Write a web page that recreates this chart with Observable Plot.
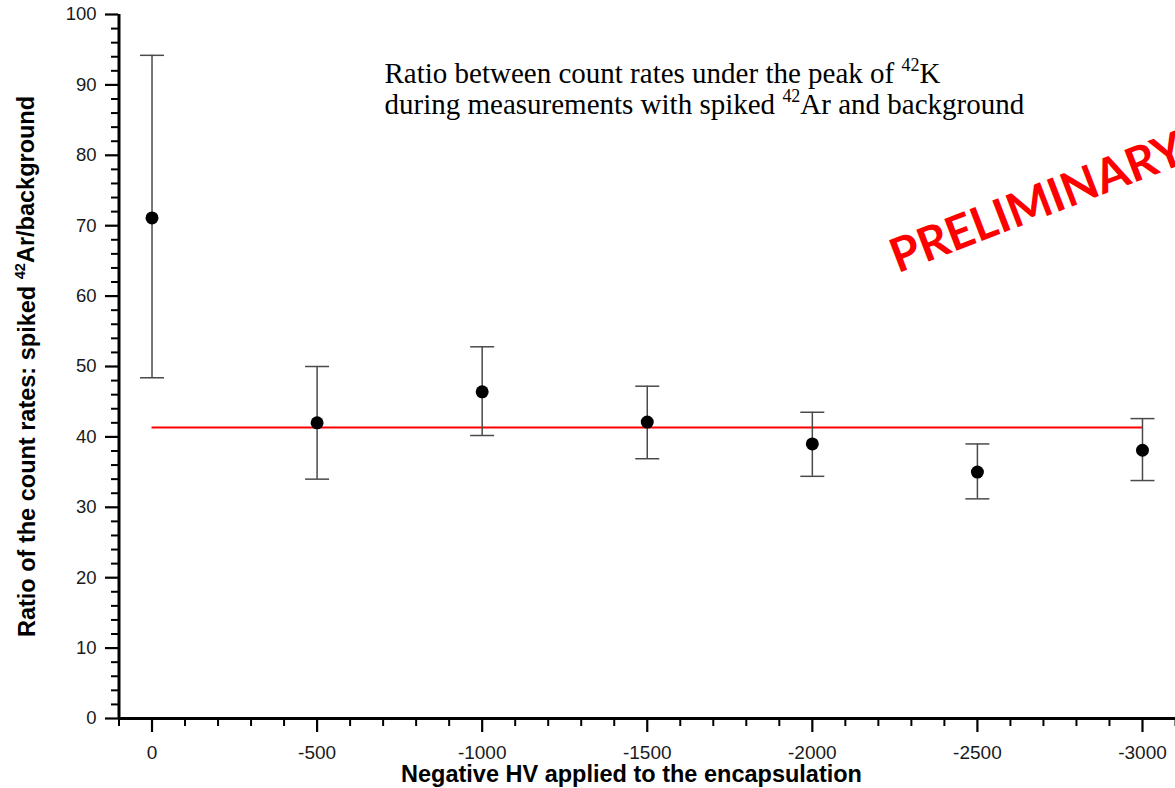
<!DOCTYPE html>
<html><head><meta charset="utf-8">
<script src="https://cdn.jsdelivr.net/npm/d3@7"></script>
<script src="https://cdn.jsdelivr.net/npm/@observablehq/plot@0.6"></script>
<style>
  html,body{margin:0;padding:0;background:#fff}
  #chart{width:1175px;height:788px}
</style>
</head><body><div id="chart"></div>
<script>
// ---- data ----
const voltages = [0, -500, -1000, -1500, -2000, -2500, -3000];
const ratios   = [71.1, 42.0, 46.4, 42.1, 39.0, 35.0, 38.1];
const errLow   = [48.4, 34.0, 40.2, 36.9, 34.4, 31.2, 33.8];
const errHigh  = [94.2, 50.0, 52.8, 47.2, 43.5, 39.0, 42.6];
const meanRatio = 41.35;
const meanFrom = 0, meanTo = -3000;
const xTicks = [0, -500, -1000, -1500, -2000, -2500, -3000];
const xMinorTicks = d3.range(100, -3101, -100).filter(v => v % 500 !== 0);
const yTicks = [0, 10, 20, 30, 40, 50, 60, 70, 80, 90, 100];
const yMinorTicks = d3.range(0, 101, 2).filter(v => v % 10 !== 0);
const xDomain = [100, -3100];
const yDomain = [0, 100];
const xLabel = "Negative HV applied to the encapsulation";
const yLabel = "Ratio of the count rates: spiked ^42Ar/background";
const noteLine1 = "Ratio between count rates under the peak of ^42K";
const noteLine2 = "during measurements with spiked ^42Ar and background";
const watermark = "PRELIMINARY";

const points = voltages.map((v, i) => ({x: v, y: ratios[i], lo: errLow[i], hi: errHigh[i]}));

// horizontal cap symbol for error bars
const capSymbol = {
  draw(ctx, size) {
    const w = Math.sqrt(size / Math.PI);
    ctx.moveTo(-w, 0); ctx.lineTo(w, 0);
  }
};

const sans = "'Liberation Sans', Arial, sans-serif";
const serif = "'Liberation Serif', 'Times New Roman', serif";

const plot = Plot.plot({
  width: 1175,
  height: 788,
  marginLeft: 118,
  marginRight: 0,
  marginTop: 14,
  marginBottom: 70,
  style: {fontFamily: sans, background: "#fff", color: "#1a1a1a"},
  x: {domain: xDomain, range: [118.5, 1175]},
  y: {domain: yDomain},
  marks: [
    // minor ticks
    Plot.axisX({ticks: xMinorTicks, tickSize: 8, text: null, strokeWidth: 2, stroke: "#000", label: null}),
    Plot.axisY({ticks: yMinorTicks, tickSize: 7, text: null, strokeWidth: 2, stroke: "#000", label: null}),
    // major ticks
    Plot.axisX({ticks: xTicks, tickSize: 14, tickPadding: 13, fontSize: 19, strokeWidth: 2.2, stroke: "#000",
                tickFormat: d => String(d), label: null, fill: "#1a1a1a"}),
    Plot.axisY({ticks: yTicks, tickSize: 13, tickPadding: 9, fontSize: 18.5, strokeWidth: 2.2, stroke: "#000",
                label: null, fill: "#1a1a1a"}),
    // axis lines
    Plot.ruleY([yDomain[0]], {stroke: "#000", strokeWidth: 3}),
    Plot.ruleX([xDomain[0]], {stroke: "#000", strokeWidth: 3}),
    // mean line
    Plot.ruleY([meanRatio], {x1: meanFrom, x2: meanTo, stroke: "#ff0000", strokeWidth: 2}),
    // error bars
    Plot.ruleX(points, {x: "x", y1: "lo", y2: "hi", stroke: "#4a4a4a", strokeWidth: 1.5}),
    Plot.dot(points, {x: "x", y: "lo", symbol: capSymbol, r: 12, stroke: "#4a4a4a", strokeWidth: 1.5, fill: "none"}),
    Plot.dot(points, {x: "x", y: "hi", symbol: capSymbol, r: 12, stroke: "#4a4a4a", strokeWidth: 1.5, fill: "none"}),
    // points
    Plot.dot(points, {x: "x", y: "y", r: 6.5, fill: "#000", stroke: null}),
    // annotation
    Plot.text([noteLine1], {frameAnchor: "top-left", dx: 266, dy: 59, text: d => d, textAnchor: "start",
               lineAnchor: "middle", fontFamily: serif, fontSize: 29, fill: "#000"}),
    Plot.text([noteLine2], {frameAnchor: "top-left", dx: 266, dy: 90, text: d => d, textAnchor: "start",
               lineAnchor: "middle", fontFamily: serif, fontSize: 29, fill: "#000"}),
    // watermark
    Plot.text([watermark], {frameAnchor: "top-left", dx: 919, dy: 189, text: d => d, rotate: -21,
               textAnchor: "middle", lineAnchor: "middle", fontFamily: "Lato, 'Open Sans', sans-serif",
               fontWeight: "bold", fontSize: 47, fill: "#ff0000"}),
    // axis titles
    Plot.text([xLabel], {frameAnchor: "bottom", dx: -15.5, dy: 56, text: d => d, textAnchor: "middle",
               lineAnchor: "middle", fontWeight: "bold", fontSize: 23.5, fill: "#000"}),
    Plot.text([yLabel], {frameAnchor: "left", dx: -91.5, text: d => d, rotate: -90, textAnchor: "middle",
               lineAnchor: "middle", fontWeight: "bold", fontSize: 23.5, fill: "#000"})
  ]
});

// enforce tick-label font sizes
d3.select(plot).selectAll('g[aria-label="x-axis tick label"]').attr("font-size", 19).style("font-size", "19px");
d3.select(plot).selectAll('g[aria-label="y-axis tick label"]').attr("font-size", 18.5).style("font-size", "18.5px");

// convert ^NN markers into superscript tspans
const NS = "http://www.w3.org/2000/svg";
d3.select(plot).selectAll("text").each(function() {
  const el = this;
  const targets = el.querySelector("tspan") ? Array.from(el.querySelectorAll("tspan")) : [el];
  targets.forEach(t => {
    const s = t.textContent;
    if (!s.includes("^")) return;
    const parts = s.split(/\^(\d+)/);
    t.textContent = "";
    let afterSup = false;
    parts.forEach((p, i) => {
      if (!p) return;
      const ts = document.createElementNS(NS, "tspan");
      ts.textContent = p;
      if (i % 2 === 1) {
        ts.setAttribute("font-size", "0.62em");
        ts.setAttribute("dy", "-0.68em");
        afterSup = true;
      } else if (afterSup) {
        ts.setAttribute("dy", "0.42em");
        afterSup = false;
      }
      t.appendChild(ts);
    });
  });
});

document.getElementById("chart").appendChild(plot);
</script>
</body></html>
